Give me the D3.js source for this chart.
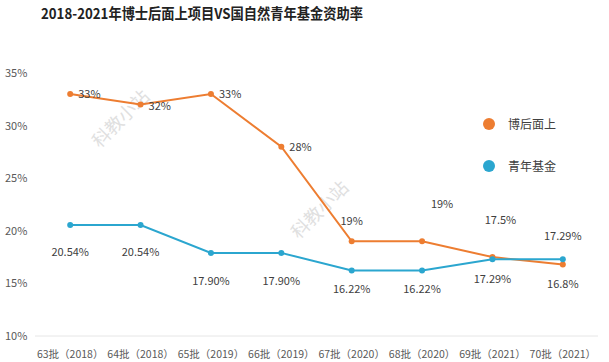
<!DOCTYPE html>
<html>
<head>
<meta charset="utf-8">
<script src="https://cdn.jsdelivr.net/npm/d3@7"></script>
<style>
  body { margin: 0; background: #fff; }
  svg { display: block; font-family: "Noto Sans CJK SC", "Noto Sans", sans-serif; }
</style>
</head>
<body>
<div id="chart"></div>
<script>
var categories = ["63批（2018）", "64批（2018）", "65批（2019）", "66批（2019）",
                  "67批（2020）", "68批（2020）", "69批（2021）", "70批（2021）"];
var postdocValues = [33, 32, 33, 28, 19, 19, 17.5, 16.8];
var postdocLabels = ["33%", "32%", "33%", "28%", "19%", "19%", "17.5%", "16.8%"];
var youthValues = [20.54, 20.54, 17.90, 17.90, 16.22, 16.22, 17.29, 17.29];
var youthLabels = ["20.54%", "20.54%", "17.90%", "17.90%", "16.22%", "16.22%", "17.29%", "17.29%"];
var yTicks = [10, 15, 20, 25, 30, 35];
var seriesNames = ["博后面上", "青年基金"];

// label placement (dx, dy from the point), per point
var postdocLabelPos = [[8, 4], [8, 5], [8, 4], [8, 4], [0, -16], [20, -33], [8, -33], [0, 24]];
var youthLabelPos = [[0, 31], [0, 31], [0, 32], [0, 32], [0, 22], [0, 22], [0, 24], [0, -19]];

var width = 609, height = 362;
var margin = {top: 73, right: 11, bottom: 26, left: 35};

var svg = d3.select("#chart").append("svg")
    .attr("width", width)
    .attr("height", height);

svg.append("text")
    .attr("x", 41)
    .attr("y", 19)
    .attr("font-size", 14.5)
    .attr("font-weight", "bold")
    .attr("fill", "#222")
    .attr("textLength", 322)
    .attr("lengthAdjust", "spacingAndGlyphs")
    .text("2018-2021年博士后面上项目VS国自然青年基金资助率");

var xScale = d3.scaleBand()
    .domain(categories)
    .range([margin.left, width - margin.right]);

var yScale = d3.scaleLinear()
    .domain([10, 35])
    .range([height - margin.bottom, margin.top]);

var cx = function (i) { return xScale(categories[i]) + xScale.bandwidth() / 2; };

// baseline
svg.append("line")
    .attr("x1", margin.left).attr("x2", width - margin.right)
    .attr("y1", yScale(10)).attr("y2", yScale(10))
    .attr("stroke", "#e6e6e6").attr("stroke-width", 1);

// y axis labels
svg.selectAll(".ytick")
    .data(yTicks)
    .enter().append("text")
    .attr("class", "ytick")
    .attr("x", 5)
    .attr("y", function (d) { return yScale(d) + 4; })
    .attr("font-size", 11)
    .attr("fill", "#595959")
    .text(function (d) { return d + "%"; });

// x axis labels
svg.selectAll(".xtick")
    .data(categories)
    .enter().append("text")
    .attr("class", "xtick")
    .attr("x", function (d) { return xScale(d) + xScale.bandwidth() / 2; })
    .attr("y", 358)
    .attr("text-anchor", "middle")
    .attr("font-size", 10.5)
    .attr("fill", "#595959")
    .text(function (d) { return d; });

// watermarks
[[121, 119], [320, 210]].forEach(function (p) {
    svg.append("text")
        .attr("transform", "translate(" + p[0] + "," + p[1] + ") rotate(-45)")
        .attr("text-anchor", "middle")
        .attr("dy", 6)
        .attr("font-size", 18)
        .attr("fill", "#e0e0e0")
        .text("科教小站");
});

var series = [
    {name: seriesNames[0], values: postdocValues, labels: postdocLabels, pos: postdocLabelPos, color: "#ED7D31"},
    {name: seriesNames[1], values: youthValues, labels: youthLabels, pos: youthLabelPos, color: "#2BA6CF"}
];

var line = d3.line()
    .x(function (d, i) { return cx(i); })
    .y(function (d) { return yScale(d); });

series.forEach(function (s) {
    svg.append("path")
        .datum(s.values)
        .attr("d", line)
        .attr("fill", "none")
        .attr("stroke", s.color)
        .attr("stroke-width", 2);

    svg.selectAll(null)
        .data(s.values)
        .enter().append("circle")
        .attr("cx", function (d, i) { return cx(i); })
        .attr("cy", function (d) { return yScale(d); })
        .attr("r", 3)
        .attr("fill", s.color);

    svg.selectAll(null)
        .data(s.values)
        .enter().append("text")
        .attr("x", function (d, i) { return cx(i) + s.pos[i][0]; })
        .attr("y", function (d, i) { return yScale(d) + s.pos[i][1]; })
        .attr("text-anchor", function (d, i) { return s.pos[i][0] > 4 && Math.abs(s.pos[i][1]) < 10 ? "start" : "middle"; })
        .attr("font-size", 11)
        .attr("fill", "#404040")
        .text(function (d, i) { return s.labels[i]; });
});

// legend
var legend = svg.selectAll(".legend")
    .data(series)
    .enter().append("g")
    .attr("class", "legend")
    .attr("transform", function (d, i) { return "translate(489," + (124 + i * 42) + ")"; });

legend.append("circle")
    .attr("r", 6)
    .attr("fill", function (d) { return d.color; });

legend.append("text")
    .attr("x", 19)
    .attr("y", 4.5)
    .attr("font-size", 12)
    .attr("fill", "#404040")
    .text(function (d) { return d.name; });
</script>
</body>
</html>
